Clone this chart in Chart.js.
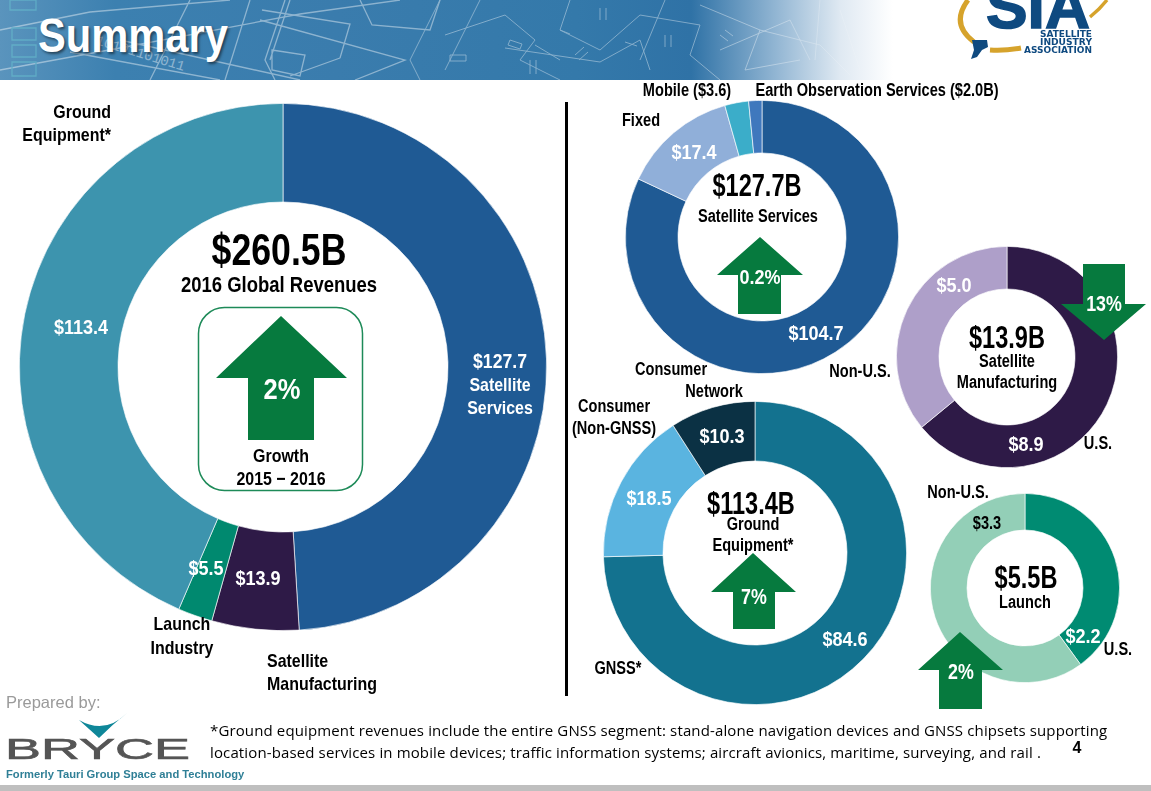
<!DOCTYPE html>
<html><head><meta charset="utf-8">
<script src="https://cdn.jsdelivr.net/npm/chart.js@4"></script>
<style>
html,body{margin:0;padding:0;background:#fff;width:1151px;height:791px;overflow:hidden}
#stage{position:relative;width:1151px;height:791px;overflow:hidden;font-family:"Liberation Sans",sans-serif;font-weight:700;color:#000}
canvas{position:absolute}
.t{position:absolute;transform:translate(-50%,-50%) scaleX(var(--s,.81));white-space:nowrap;text-align:center;font-size:18px;line-height:22px}
.w{color:#fff}
.v{font-size:21px;line-height:23px;--s:.86}
.h{font-size:31px;line-height:34px;--s:.76}
.b{font-size:19px;--s:.84}
svg{position:absolute;left:0;top:0}
#banner{position:absolute;left:0;top:0;width:960px;height:80px;background:linear-gradient(90deg,#5a94bd 0,#3c80b0 12%,#3a7cad 35%,#3479aa 60%,#2f72a6 72%,#94b7d4 81%,#dfe9f2 87.5%,#ffffff 93%)}
</style></head><body><div id="stage">
<div id="banner"></div>
<svg width="960" height="80" style="opacity:.42">
<defs><linearGradient id="fade" gradientUnits="userSpaceOnUse" x1="0" x2="900" y1="0" y2="0"><stop offset="0" stop-color="#fff"/><stop offset=".85" stop-color="#fff"/><stop offset="1" stop-color="#fff" stop-opacity="0"/></linearGradient></defs>
<g fill="none" stroke="url(#fade)" stroke-width="1.3">
<path d="M0 30L90 12L230 0M0 70L120 48L300 14L400 0M70 52L220 80M120 40L300 80M190 0L150 80M250 0L225 80"/>
<path d="M285 0L265 60L275 80M290 0L270 60M262 10L350 24L340 58M272 50L305 55L300 76L272 70zM260 20L405 60L355 80M340 58L290 76M360 0L372 25L430 30L440 0"/>
</g>
<g fill="none" stroke="url(#fade)" stroke-width=".9">
<path d="M440 0L410 60L420 80M480 0L445 70M445 35L505 15L535 40L520 60L560 80M505 48L600 62L640 40M535 45L560 60M570 0L560 30L600 50L640 15L700 25L690 55L720 80M640 40L650 70M700 5L760 30L745 70L800 60M665 0L640 60M720 50L790 20L810 60M760 30L820 45L850 75M820 0L815 60M840 10L860 70"/>
<path d="M450 55h16v6h-16zM510 40l12 4l-2 5l-12-4zM530 60v14M536 60v14M575 55l9-8M579 60l9-8M625 42l12 4M600 8v12M606 8v12M560 30l10 4M665 35v12M671 35v12M720 35l8 6M725 30l8 6"/>
</g>
<g fill="none" stroke="#71d4d8" stroke-width="1.3"><path d="M10 0h26v10h-26zM12 28h24v12h-24zM12 45h24v12h-24zM12 62h24v14h-24z"/></g>
<text x="95" y="44" transform="rotate(17 95 44)" fill="#fff" font-family="Liberation Mono" font-size="14" font-weight="400">10101101011</text>
</svg>
<div class="t" style="left:133px;top:35px;font-size:49px;line-height:54px;color:#fff;--s:.85;text-shadow:2px 2px 3px rgba(0,0,0,.5)">Summary</div>

<svg width="1151" height="80" style="z-index:2">
<g fill="none" stroke="#d6a32c" stroke-width="5"><path d="M968 0Q950 24 974 42"/><path d="M990 50Q1005 51 1021 48"/><path d="M1090 17Q1100 9 1107 0" stroke-width="3.5"/></g>
<path d="M972 40l15 0l1 7l-6 3l-5 7l-6 2l3-9z" fill="#0f4a80"/>
<text x="1038" y="28" text-anchor="middle" textLength="104" lengthAdjust="spacingAndGlyphs" font-family="Liberation Sans" font-weight="700" font-size="62" stroke="#0f4a80" stroke-width="1.5" fill="#0f4a80">SIA</text>
<g font-family="DejaVu Sans" font-size="8.5" font-weight="700" fill="#0f4a80" text-anchor="end">
<text x="1092" y="37" textLength="52" lengthAdjust="spacingAndGlyphs">SATELLITE</text>
<text x="1092" y="45" textLength="52" lengthAdjust="spacingAndGlyphs">INDUSTRY</text>
<text x="1092" y="53" textLength="68" lengthAdjust="spacingAndGlyphs">ASSOCIATION</text></g>
</svg>

<canvas id="cMain" style="left:19px;top:103px"></canvas>
<canvas id="cServices" style="left:625px;top:100px"></canvas>
<canvas id="cMfg" style="left:896px;top:246px"></canvas>
<canvas id="cGround" style="left:603px;top:401px"></canvas>
<canvas id="cLaunch" style="left:930px;top:493px"></canvas>

<svg width="1151" height="791" style="z-index:1">
<rect x="198.5" y="307.5" width="164" height="183" rx="26" fill="none" stroke="#1d8a58" stroke-width="1.5"/>
<rect x="565" y="102" width="3" height="594" fill="#000"/>
<g fill="#067a3e">
<polygon points="281,316 347,378 314,378 314,440 248,440 248,378 216,378"/>
<polygon points="760,237 803,275 781,275 781,314 738,314 738,275 717,275"/>
<polygon points="1104,340 1146,304 1125,304 1125,264 1083,264 1083,304 1061,304"/>
<polygon points="753,553 796,592 775,592 775,629 733,629 733,592 711,592"/>
<polygon points="960,632 1003,670 982,670 982,709 939,709 939,670 918,670"/>
</g>
<path d="M79 720Q105 735 127 713Q113 724 99 738Z" fill="#0f8799"/>
<text x="5" y="759" textLength="185" lengthAdjust="spacingAndGlyphs" font-family="Liberation Sans" font-size="29" font-weight="400" stroke="#555" stroke-width=".6" fill="#555">BRYCE</text>
<rect x="0" y="785" width="1151" height="6" fill="#bfbfbf"/>
</svg>

<div style="position:absolute;inset:0;z-index:3">
<div class="t b" style="left:111px;top:123px;transform:translate(-100%,-50%) scaleX(var(--s));transform-origin:right center;text-align:right;line-height:23px">Ground<br>Equipment*</div>
<div class="t v w" style="left:81px;top:326px">$113.4</div>
<div class="t b w" style="left:500px;top:384px;line-height:23px"><span style="font-size:21px">$127.7</span><br>Satellite<br>Services</div>
<div class="t v w" style="left:206px;top:567px">$5.5</div>
<div class="t v w" style="left:258px;top:577px">$13.9</div>
<div class="t b" style="left:182px;top:636px;line-height:24px">Launch<br>Industry</div>
<div class="t b" style="left:267px;top:672px;transform:translate(0,-50%) scaleX(var(--s));transform-origin:left center;text-align:left;line-height:23px">Satellite<br>Manufacturing</div>
<div class="t" style="left:279px;top:250px;font-size:44px;line-height:48px">$260.5B</div>
<div class="t" style="left:279px;top:285px;font-size:22px;line-height:26px;--s:.84">2016 Global Revenues</div>
<div class="t w" style="left:282px;top:389px;font-size:29px;line-height:32px;--s:.88">2%</div>
<div class="t b" style="left:281px;top:467px;line-height:23px">Growth<br>2015 − 2016</div>

<div class="t" style="left:687px;top:90px">Mobile ($3.6)</div>
<div class="t" style="left:877px;top:90px">Earth Observation Services ($2.0B)</div>
<div class="t" style="left:641px;top:120px">Fixed</div>
<div class="t v w" style="left:694px;top:151px">$17.4</div>
<div class="t h" style="left:757px;top:186px">$127.7B</div>
<div class="t" style="left:758px;top:216px">Satellite Services</div>
<div class="t w" style="left:760px;top:277px;font-size:20px;--s:.9">0.2%</div>
<div class="t v w" style="left:816px;top:332px">$104.7</div>
<div class="t" style="left:860px;top:371px">Non-U.S.</div>

<div class="t" style="left:671px;top:369px">Consumer</div>
<div class="t" style="left:714px;top:391px">Network</div>
<div class="t" style="left:614px;top:417px">Consumer<br>(Non-GNSS)</div>
<div class="t v w" style="left:722px;top:435px">$10.3</div>
<div class="t v w" style="left:649px;top:497px">$18.5</div>
<div class="t h" style="left:751px;top:504px">$113.4B</div>
<div class="t" style="left:753px;top:535px;line-height:21px">Ground<br>Equipment*</div>
<div class="t w" style="left:754px;top:597px;font-size:22px">7%</div>
<div class="t" style="left:618px;top:668px">GNSS*</div>
<div class="t v w" style="left:845px;top:638px">$84.6</div>

<div class="t v w" style="left:954px;top:284px">$5.0</div>
<div class="t h" style="left:1007px;top:338px">$13.9B</div>
<div class="t" style="left:1007px;top:372px;line-height:21px">Satellite<br>Manufacturing</div>
<div class="t w" style="left:1104px;top:304px;font-size:22px">13%</div>
<div class="t v w" style="left:1026px;top:443px">$8.9</div>
<div class="t" style="left:1098px;top:443px">U.S.</div>

<div class="t" style="left:958px;top:492px">Non-U.S.</div>
<div class="t" style="left:987px;top:523px">$3.3</div>
<div class="t h" style="left:1026px;top:578px">$5.5B</div>
<div class="t" style="left:1025px;top:602px">Launch</div>
<div class="t v w" style="left:1083px;top:635px">$2.2</div>
<div class="t" style="left:1118px;top:649px">U.S.</div>
<div class="t w" style="left:961px;top:672px;font-size:22px">2%</div>

<div style="position:absolute;left:6px;top:693px;font:400 16.5px 'Liberation Sans';color:#9a9a9a;white-space:nowrap">Prepared by:</div>
<div style="position:absolute;left:6px;top:768px;font:700 11.2px 'Liberation Sans';color:#2f7f96;white-space:nowrap">Formerly Tauri Group Space and Technology</div>
<div style="position:absolute;left:210px;top:719px;font:400 15px/22px 'Open Sans';letter-spacing:.13px;color:#000;white-space:nowrap">*Ground equipment revenues include the entire GNSS segment: stand-alone navigation devices and GNSS chipsets supporting<br>location-based services in mobile devices; traffic information systems; aircraft avionics, maritime, surveying, and rail .</div>
<div class="t" style="left:1077px;top:748px;font-size:16px;--s:1">4</div>
</div>
</div>
<script>
// Segment names and values ($B), clockwise from 12 o'clock
const mainLabels = ['Satellite Services', 'Satellite Manufacturing', 'Launch Industry', 'Ground Equipment'];
const mainValues = [127.7, 13.9, 5.5, 113.4];
const mainColors = ['#1f5a94', '#2e1a47', '#00896f', '#3d94ae'];

const servicesLabels = ['Non-U.S.', 'Fixed', 'Mobile', 'Earth Observation Services'];
const servicesValues = [104.7, 17.4, 3.6, 2.0];
const servicesColors = ['#1f5a94', '#90afd9', '#3badc9', '#3f78bd'];

const mfgLabels = ['U.S.', 'Non-U.S.'];
const mfgValues = [8.9, 5.0];
const mfgColors = ['#2e1a47', '#ae9fc9'];

const groundLabels = ['GNSS', 'Consumer (Non-GNSS)', 'Consumer Network'];
const groundValues = [84.6, 18.5, 10.3];
const groundColors = ['#13728f', '#5ab4e0', '#0b3144'];

const launchLabels = ['U.S.', 'Non-U.S.'];
const launchValues = [2.2, 3.3];
const launchColors = ['#008b72', '#93cfb7'];

function donut(id, size, cutout, labels, values, colors) {
  const cv = document.getElementById(id);
  cv.width = size; cv.height = size;
  cv.style.width = size + 'px'; cv.style.height = size + 'px';
  new Chart(cv, {
    type: 'doughnut',
    data: { labels, datasets: [{ data: values, backgroundColor: colors, borderColor: 'rgba(255,255,255,.8)', borderWidth: 0.8 }] },
    options: {
      responsive: false, animation: false, cutout,
      layout: { padding: 0 },
      plugins: { legend: { display: false }, tooltip: { enabled: false } }
    }
  });
}
donut('cMain', 528, 165, mainLabels, mainValues, mainColors);
donut('cServices', 274, 84, servicesLabels, servicesValues, servicesColors);
donut('cMfg', 222, 68, mfgLabels, mfgValues, mfgColors);
donut('cGround', 304, 92, groundLabels, groundValues, groundColors);
donut('cLaunch', 190, 58, launchLabels, launchValues, launchColors);
</script>
</body></html>
